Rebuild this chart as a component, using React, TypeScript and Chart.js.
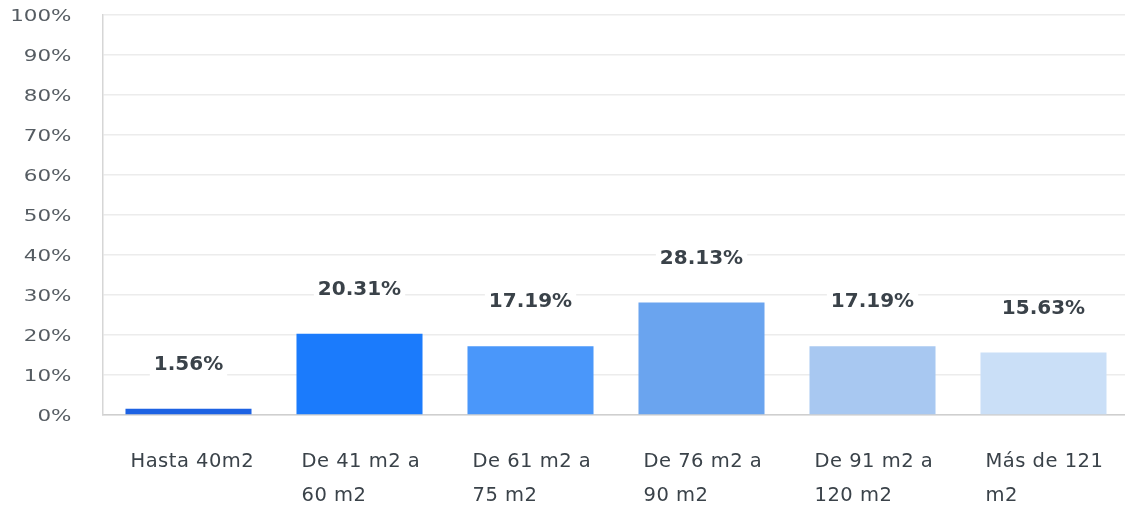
import { useEffect, useRef } from "react";
import { Chart, registerables } from "chart.js";

Chart.register(...registerables);

// Surface ranges (each entry is the wrapped lines of one category label)
const categories: string[][] = [
  ["Hasta 40m2"],
  ["De 41 m2 a", "60 m2"],
  ["De 61 m2 a", "75 m2"],
  ["De 76 m2 a", "90 m2"],
  ["De 91 m2 a", "120 m2"],
  ["Más de 121", "m2"],
];

// Share of answers per range, in percent
const shares: number[] = [1.56, 20.31, 17.19, 28.13, 17.19, 15.63];

// One shade of blue per bar, darkest to lightest
const barColors: string[] = ["#1d62e3", "#1b7bfc", "#4a97fa", "#6aa4ef", "#a8c8f1", "#cadff7"];

const FONT = '"DejaVu Sans", sans-serif';
const TEXT_DARK = "#3a4249";
const TEXT_TICK = "#555c62";

const labelsPlugin = {
  id: "surveyLabels",
  afterDatasetsDraw(chart: Chart) {
    const ctx = chart.ctx;
    const meta = chart.getDatasetMeta(0);
    ctx.save();
    ctx.font = `bold 20px ${FONT}`;
    ctx.textAlign = "center";
    ctx.textBaseline = "middle";
    meta.data.forEach((bar: any, i: number) => {
      const text = shares[i].toFixed(2) + "%";
      const w = ctx.measureText(text).width;
      const cy = bar.y - 44;
      ctx.fillStyle = "#ffffff";
      ctx.fillRect(bar.x - w / 2 - 4, cy - 12, w + 8, 26);
      ctx.fillStyle = TEXT_DARK;
      ctx.fillText(text, bar.x, cy);
    });
    ctx.restore();
  },
  afterDraw(chart: Chart) {
    const ctx = chart.ctx;
    const yScale: any = chart.scales.y;
    const area = chart.chartArea;

    // value axis labels, drawn slightly widened
    ctx.save();
    ctx.font = `16.5px ${FONT}`;
    ctx.fillStyle = TEXT_TICK;
    ctx.textAlign = "right";
    ctx.textBaseline = "middle";
    yScale.ticks.forEach((t: any) => {
      const py = yScale.getPixelForValue(t.value);
      ctx.save();
      ctx.translate(area.left - 31.5, py + 2);
      ctx.scale(1.3, 1);
      ctx.fillText(`${t.value}%`, 0, 0);
      ctx.restore();
    });
    ctx.restore();

    // category labels, left-aligned under each bar
    const meta = chart.getDatasetMeta(0);
    ctx.save();
    ctx.font = `19.5px ${FONT}`;
    ctx.fillStyle = TEXT_DARK;
    ctx.textAlign = "left";
    ctx.textBaseline = "alphabetic";
    (ctx as any).letterSpacing = "0.5px";
    meta.data.forEach((bar: any, i: number) => {
      const left = bar.x - bar.width / 2 + 5;
      categories[i].forEach((line, j) => {
        ctx.fillText(line, left, area.bottom + 52 + j * 34);
      });
    });
    ctx.restore();
  },
};

export default function App() {
  const canvasRef = useRef<HTMLCanvasElement | null>(null);

  useEffect(() => {
    const canvas = canvasRef.current;
    if (!canvas) return;
    const chart = new Chart(canvas, {
      type: "bar",
      data: {
        labels: categories.map((c) => c.join(" ")),
        datasets: [
          {
            data: shares,
            backgroundColor: barColors,
            borderWidth: 0,
            barPercentage: 0.737,
            categoryPercentage: 1,
          },
        ],
      },
      options: {
        responsive: false,
        animation: false,
        devicePixelRatio: 1,
        layout: { padding: { top: 15, bottom: 91, left: 0, right: 0 } },
        plugins: {
          legend: { display: false },
          tooltip: { enabled: false },
        },
        scales: {
          x: {
            grid: { display: false, drawTicks: false },
            border: { display: true, color: "#cfcfcf", width: 1.5 },
            ticks: { display: false },
            afterFit: (scale: any) => {
              scale.height = 0;
            },
          },
          y: {
            min: 0,
            max: 100,
            ticks: { display: false, stepSize: 10 },
            grid: { color: "#ececec", lineWidth: 1.5, drawTicks: false },
            border: { display: true, color: "#d6d6d6", width: 1.5 },
            afterFit: (scale: any) => {
              scale.width = 103;
            },
          },
        },
      },
      plugins: [labelsPlugin],
    });
    return () => chart.destroy();
  }, []);

  return (
    <div
      style={{
        position: "fixed",
        left: 0,
        top: 0,
        width: 1125,
        height: 506,
        overflow: "hidden",
        background: "#ffffff",
      }}
    >
      <canvas ref={canvasRef} width={1129} height={506} style={{ display: "block" }} />
    </div>
  );
}
